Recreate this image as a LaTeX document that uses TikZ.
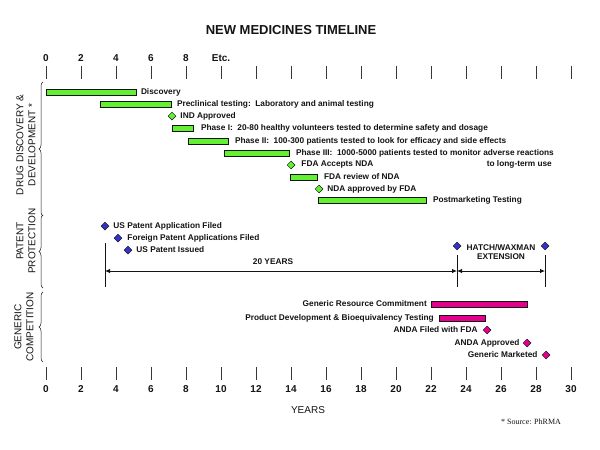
\documentclass[tikz,border=0pt]{standalone}
\usepackage{fontspec}
\setmainfont{Liberation Sans}
\newfontfamily\srcfont{Liberation Serif}
\usetikzlibrary{shapes.geometric,arrows.meta,decorations.pathreplacing}
\definecolor{barg}{RGB}{100,240,50}
\definecolor{dblue}{RGB}{51,51,204}
\definecolor{mag}{RGB}{228,0,140}
\definecolor{ink}{RGB}{20,20,20}
\begin{document}
\begin{tikzpicture}[x=1pt,y=-1pt,
  gbar/.style={draw=ink,line width=0.8pt,fill=barg,minimum height=6pt,inner sep=0pt,anchor=west},
  mbar/.style={draw=ink,line width=0.8pt,fill=mag,minimum height=6pt,inner sep=0pt,anchor=west},
  dia/.style={diamond,draw=ink,line width=0.5pt,minimum width=8pt,minimum height=8pt,inner sep=0pt},
  gdia/.style={dia,fill=barg},
  bdia/.style={dia,fill=dblue},
  mdia/.style={dia,fill=mag},
  lbl/.style={inner sep=0pt,font=\fontsize{8.3}{9.8}\selectfont\bfseries,text=ink},
  lblw/.style={lbl,anchor=west},
  lble/.style={lbl,anchor=east},
  sect/.style={rotate=90,align=center,inner sep=0pt,font=\fontsize{10}{12}\selectfont,text=ink},
  ticklab/.style={inner sep=0pt,font=\fontsize{10}{12}\selectfont\bfseries,text=ink},
  tick/.style={draw=ink!85,line width=0.6pt},
  brc/.style={draw=ink,line width=0.5pt,decorate,decoration={brace,amplitude=4pt}},
  dim/.style={draw=ink,line width=0.8pt,{Latex[length=5pt,width=4.5pt]}-{Latex[length=5pt,width=4.5pt]}},
  vline/.style={draw=ink,line width=0.8pt}
]
\useasboundingbox (0,0) rectangle (600,450);
\fill[white] (0,0) rectangle (600,450);

% title
\node[inner sep=0pt,font=\fontsize{13}{15}\selectfont\bfseries,text=ink] (title) at (291,30) {NEW MEDICINES TIMELINE};

% top axis
\foreach \k in {0,...,15} {
  \draw[tick] (46+35*\k,66) -- (46+35*\k,79);
}
\foreach \k/\t in {0/0,1/2,2/4,3/6,4/8,5/Etc.} {
  \node[ticklab] (top\k) at (46+35*\k,58) {\t};
}

% bottom axis
\foreach \k in {0,...,15} {
  \draw[tick] (46+35*\k,367) -- (46+35*\k,380);
  \pgfmathtruncatemacro{\yr}{2*\k}
  \node[ticklab] (bot\k) at (46+35*\k,389) {\yr};
}
\node[inner sep=0pt,font=\fontsize{10}{12}\selectfont,text=ink] (years) at (308,410) {YEARS};
\node[inner sep=0pt,font=\srcfont\fontsize{8}{10}\selectfont,text=ink] (src) at (531,422) {* Source: PhRMA};

% section labels and braces
\node[sect] (drugL) at (26,145) {DRUG DISCOVERY \&\\DEVELOPMENT *};
\node[sect] (patL) at (26,241) {PATENT\\PROTECTION};
\node[sect] (genL) at (24,327) {GENERIC\\COMPETITION};
\draw[brc] (43,216) -- (43,82);
\draw[brc] (43,288) -- (43,215);
\draw[brc] (43,362) -- (43,292);

% drug discovery & development
\node[gbar,minimum width=90pt] (disc) at (46,92) {};
\node[lblw] (discL) at ([xshift=4pt]disc.east) {Discovery};
\node[gbar,minimum width=71pt] (pre) at (100,104) {};
\node[lblw] (preL) at ([xshift=5pt]pre.east) {Preclinical testing:\ \ Laboratory and animal testing};
\node[gdia] (ind) at (172,116) {};
\node[lblw] (indL) at ([xshift=4pt]ind.east) {IND Approved};
\node[gbar,minimum width=21pt] (ph1) at (172,128) {};
\node[lblw] (ph1L) at ([xshift=7pt]ph1.east) {Phase I:\ \ 20-80 healthy volunteers tested to determine safety and dosage};
\node[gbar,minimum width=40pt] (ph2) at (188,141) {};
\node[lblw] (ph2L) at ([xshift=6pt]ph2.east) {Phase II:\ \ 100-300 patients tested to look for efficacy and side effects};
\node[gbar,minimum width=65pt] (ph3) at (224,153) {};
\node[lblw] (ph3L) at ([xshift=6pt]ph3.east) {Phase III:\ \ 1000-5000 patients tested to monitor adverse reactions};
\node[lbl,anchor=north east] (ph3L2) at ([xshift=-2pt,yshift=-3pt]ph3L.south east) {to long-term use};
\node[gdia] (acc) at (291,165) {};
\node[lblw] (accL) at ([xshift=6pt]acc.east) {FDA Accepts NDA};
\node[gbar,minimum width=27pt] (rev) at (290,177) {};
\node[lblw] (revL) at ([xshift=6pt]rev.east) {FDA review of NDA};
\node[gdia] (appr) at (319,189) {};
\node[lblw] (apprL) at ([xshift=4pt]appr.east) {NDA approved by FDA};
\node[gbar,minimum width=108pt] (post) at (318,200) {};
\node[lblw] (postL) at ([xshift=6pt]post.east) {Postmarketing Testing};

% patent protection
\node[bdia] (usf) at (105,226) {};
\node[lblw] (usfL) at ([xshift=4pt]usf.east) {US Patent Application Filed};
\node[bdia] (fpf) at (118,238) {};
\node[lblw] (fpfL) at ([xshift=5pt]fpf.east) {Foreign Patent Applications Filed};
\node[bdia] (usi) at (128,250) {};
\node[lblw] (usiL) at ([xshift=4pt]usi.east) {US Patent Issued};
\node[bdia] (hw1) at (457,246) {};
\node[bdia] (hw2) at (545,246) {};
\node[lbl,align=center] (hwL) at (501,252) {HATCH/WAXMAN\\EXTENSION};
\coordinate (l1t) at (105,243);
\coordinate (l1b) at (105,287);
\coordinate (l2t) at (457,255);
\coordinate (l2b) at (457,287);
\coordinate (l3t) at (545,255);
\coordinate (l3b) at (545,287);
\draw[vline] (l1t) -- (l1b);
\draw[vline] (l2t) -- (l2b);
\draw[vline] (l3t) -- (l3b);
\coordinate (aL) at (105,271);
\coordinate (aM) at (457,271);
\coordinate (aR) at (545,271);
\draw[dim] (aL) -- (aM);
\draw[dim] (aM) -- (aR);
\node[lbl] (yrs) at (273,262) {20 YEARS};

% generic competition
\node[mbar,minimum width=96pt] (grc) at (431,304) {};
\node[lble] (grcL) at ([xshift=-4pt]grc.west) {Generic Resource Commitment};
\node[mbar,minimum width=46pt] (pdb) at (439,318) {};
\node[lble] (pdbL) at ([xshift=-5pt]pdb.west) {Product Development \& Bioequivalency Testing};
\node[mdia] (af) at (487,330) {};
\node[lble] (afL) at ([xshift=-5pt]af.west) {ANDA Filed with FDA};
\node[mdia] (aa) at (527,343) {};
\node[lble] (aaL) at ([xshift=-3pt]aa.west) {ANDA Approved};
\node[mdia] (gm) at (546,355) {};
\node[lble] (gmL) at ([xshift=-4pt]gm.west) {Generic Marketed};
\end{tikzpicture}
\end{document}
